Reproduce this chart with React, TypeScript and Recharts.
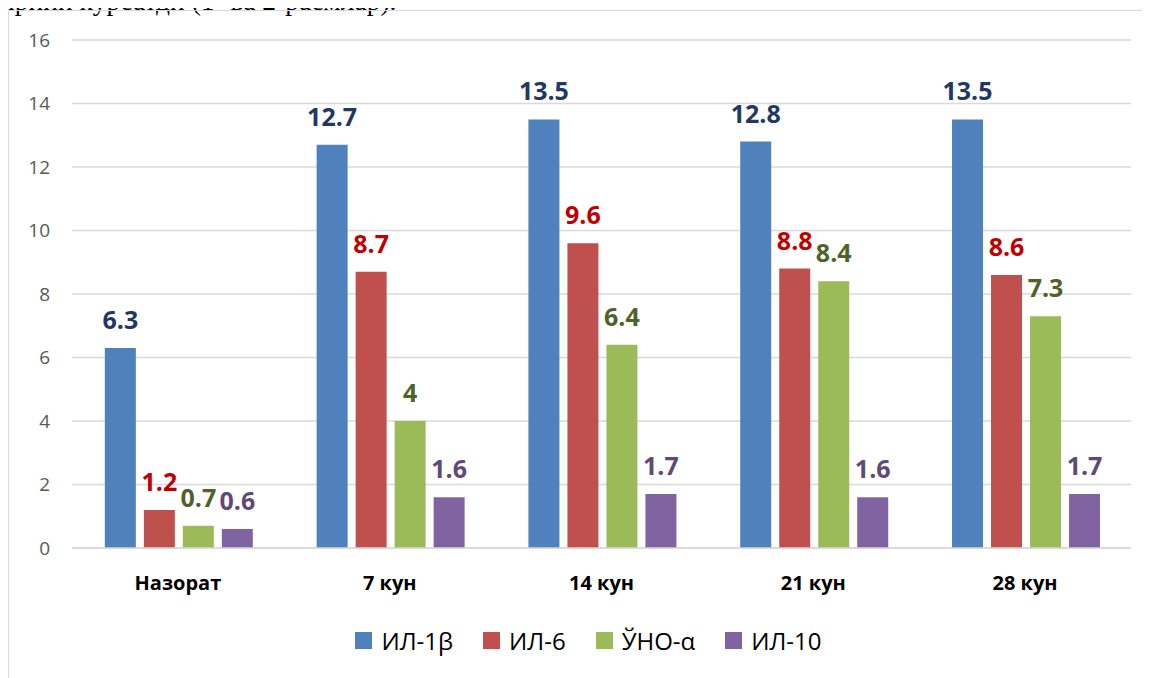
import { Bar, BarChart, CartesianGrid, LabelList, Legend, XAxis, YAxis } from "recharts";

const categories = ["Назорат", "7 кун", "14 кун", "21 кун", "28 кун"];
const il1b = [6.3, 12.7, 13.5, 12.8, 13.5];
const il6 = [1.2, 8.7, 9.6, 8.8, 8.6];
const tnf = [0.7, 4, 6.4, 8.4, 7.3];
const il10 = [0.6, 1.6, 1.7, 1.6, 1.7];
const yTicks = [0, 2, 4, 6, 8, 10, 12, 14, 16];

const series = [
  { key: "il1b", name: "ИЛ-1β", fill: "#4f81bd", label: "#1f3864" },
  { key: "il6", name: "ИЛ-6", fill: "#c0504d", label: "#c00000" },
  { key: "tnf", name: "ЎНО-α", fill: "#9bbb59", label: "#4f6228" },
  { key: "il10", name: "ИЛ-10", fill: "#8064a2", label: "#5f497a" },
];

const data = categories.map((c, i) => ({
  name: c,
  il1b: il1b[i],
  il6: il6[i],
  tnf: tnf[i],
  il10: il10[i],
}));

const font = "'Open Sans', 'DejaVu Sans', sans-serif";

function LegendBox() {
  return (
    <div style={{ display: "flex", justifyContent: "center", gap: 30, paddingTop: 16, paddingLeft: 38 }}>
      {series.map((s) => (
        <span key={s.key} style={{ display: "flex", alignItems: "center", fontFamily: font, fontSize: 24, color: "#000" }}>
          <span style={{ display: "inline-block", width: 17, height: 17, background: s.fill, marginRight: 9 }} />
          {s.name}
        </span>
      ))}
    </div>
  );
}

export default function App() {
  return (
    <div style={{ position: "relative", width: 1142, height: 670 }}>
      <div
        style={{
          position: "absolute",
          left: -8,
          top: -23,
          fontFamily: "'Liberation Serif', serif",
          fontSize: 27.5,
          whiteSpace: "nowrap",
          color: "#000",
        }}
      >
        ирини кўрсатди (1- ва 2-расмлар).
      </div>
      <div
        style={{
          position: "absolute",
          left: 0,
          top: 2,
          width: 1160,
          height: 700,
          borderTop: "1.5px solid #d9d9d9",
          borderLeft: "1.5px solid #d9d9d9",
        }}
      />
      <div style={{ position: "absolute", left: 0, top: 0 }}>
        <BarChart
          width={1142}
          height={670}
          data={data}
          margin={{ top: 32, right: 19, left: 0, bottom: 0 }}
          barCategoryGap="15.5%"
          barGap={8}
        >
          <CartesianGrid vertical={false} stroke="#d9d9d9" strokeWidth={1.5} />
          <XAxis
            dataKey="name"
            height={60}
            tickLine={false}
            axisLine={{ stroke: "#d9d9d9", strokeWidth: 1.5 }}
            tickMargin={22}
            tick={{ fontSize: 20, fontWeight: 700, fill: "#000", fontFamily: font }}
          />
          <YAxis
            width={64}
            domain={[0, 16]}
            ticks={yTicks}
            tickLine={false}
            axisLine={false}
            tickMargin={16}
            tick={{ fontSize: 19, fill: "#595959", fontFamily: font }}
          />
          <Legend verticalAlign="bottom" height={70} content={() => <LegendBox />} />
          {series.map((s) => (
            <Bar key={s.key} dataKey={s.key} name={s.name} fill={s.fill} isAnimationActive={false}>
              <LabelList
                dataKey={s.key}
                position="top"
                offset={19}
                fill={s.label}
                style={{ fontSize: 25, fontWeight: 700, fontFamily: font }}
              />
            </Bar>
          ))}
        </BarChart>
      </div>
    </div>
  );
}
